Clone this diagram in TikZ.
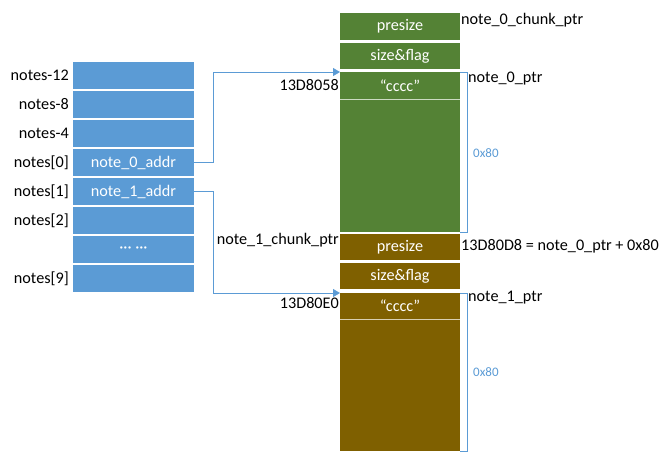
\documentclass[tikz,border=0pt]{standalone}
\usepackage{fontspec}
\setmainfont{Carlito}
\usepackage{tikz}
\usetikzlibrary{positioning,arrows.meta}

\definecolor{cellblue}{HTML}{5B9BD5}
\definecolor{chunkgreen}{HTML}{548235}
\definecolor{chunkbrown}{HTML}{7F6000}
\definecolor{linkblue}{HTML}{5B9BD5}

\begin{document}
\begin{tikzpicture}[x=1pt,y=-1pt,
  font=\fontsize{16.2}{19}\selectfont,
  cell/.style={fill=cellblue,text=white,minimum width=121pt,minimum height=27pt,
    inner sep=0pt,outer sep=0pt},
  gcell/.style={fill=chunkgreen,text=white,minimum width=120pt,minimum height=27pt,
    inner sep=0pt,outer sep=0pt},
  bcell/.style={gcell,fill=chunkbrown},
  lbl/.style={inner sep=1pt},
  link/.style={draw=linkblue,line width=0.8pt,-{Triangle[length=7pt,width=8pt]}},
  span/.style={draw=linkblue,line width=0.8pt},
  sizelbl/.style={text=linkblue,inner sep=1pt,font=\fontsize{13}{15}\selectfont}]
  \useasboundingbox (0,0) rectangle (669,459);

  % notes array
  \foreach \txt/\lab [count=\i from 0] in {/notes-12,/notes-8,/notes-4,
      note\_0\_addr/notes[0],note\_1\_addr/notes[1],/notes[2],··· ···/,/notes[9]} {
    \node[cell] (a\i) at (133.5,{75.5+29*\i}) {\txt};
    \node[lbl,left=3pt of a\i] (l\i) {\lab};
  }

  % chunk of note 0
  \node[gcell] (pre0) at (400,26.5) {presize};
  \node[gcell,minimum height=26pt,below=3pt of pre0] (sf0) {size\&flag};
  \node[gcell,below=3pt of sf0] (str0) {“cccc”};
  \node[gcell,minimum height=133pt,below=0pt of str0] (data0) {};
  \draw[white!70!chunkgreen] (str0.south west) -- (str0.south east);

  % chunk of note 1
  \node[bcell,minimum height=26pt,below=2pt of data0] (pre1) {presize};
  \node[bcell,minimum height=26pt,below=3pt of pre1] (sf1) {size\&flag};
  \node[bcell,minimum height=26pt,below=4pt of sf1] (str1) {“cccc”};
  \node[bcell,minimum height=132pt,below=0pt of str1] (data1) {};
  \draw[white!70!chunkbrown] (str1.south west) -- (str1.south east);

  % pointers
  \draw[link] (a3.east) -- ++(19,0) |- (str0.north west);
  \draw[link] (a4.east) -- ++(19,0) |- (str1.north west);

  % sizes
  \draw[span] (str0.north east) -- ++(7,0) coordinate (top0) |- (data0.south east);
  \draw[span] (str1.north east) -- ++(7,0) coordinate (top1) |- (data1.south east);
  \node[sizelbl,anchor=west] (size0) at (472,153) {0x80};
  \node[sizelbl,anchor=west] (size1) at (472,372) {0x80};

  % addresses
  \node[lbl,anchor=north west] (chunk0) at ([yshift=1pt]pre0.north east) {note\_0\_chunk\_ptr};
  \node[lbl,anchor=north west] (ptr0) at ([yshift=1pt]top0) {note\_0\_ptr};
  \node[lbl,anchor=east] (addr0) at (str0.west) {13D8058};
  \node[lbl,anchor=east] (chunk1) at ([yshift=-6pt]pre1.north west) {note\_1\_chunk\_ptr};
  \node[lbl,anchor=west] (addr2) at ([yshift=1pt]pre1.east) {13D80D8 = note\_0\_ptr + 0x80};
  \node[lbl,anchor=east] (addr1) at ([yshift=3pt]str1.west) {13D80E0};
  \node[lbl,anchor=north west] (ptr1) at ([yshift=3pt]top1) {note\_1\_ptr};
\end{tikzpicture}
\end{document}
